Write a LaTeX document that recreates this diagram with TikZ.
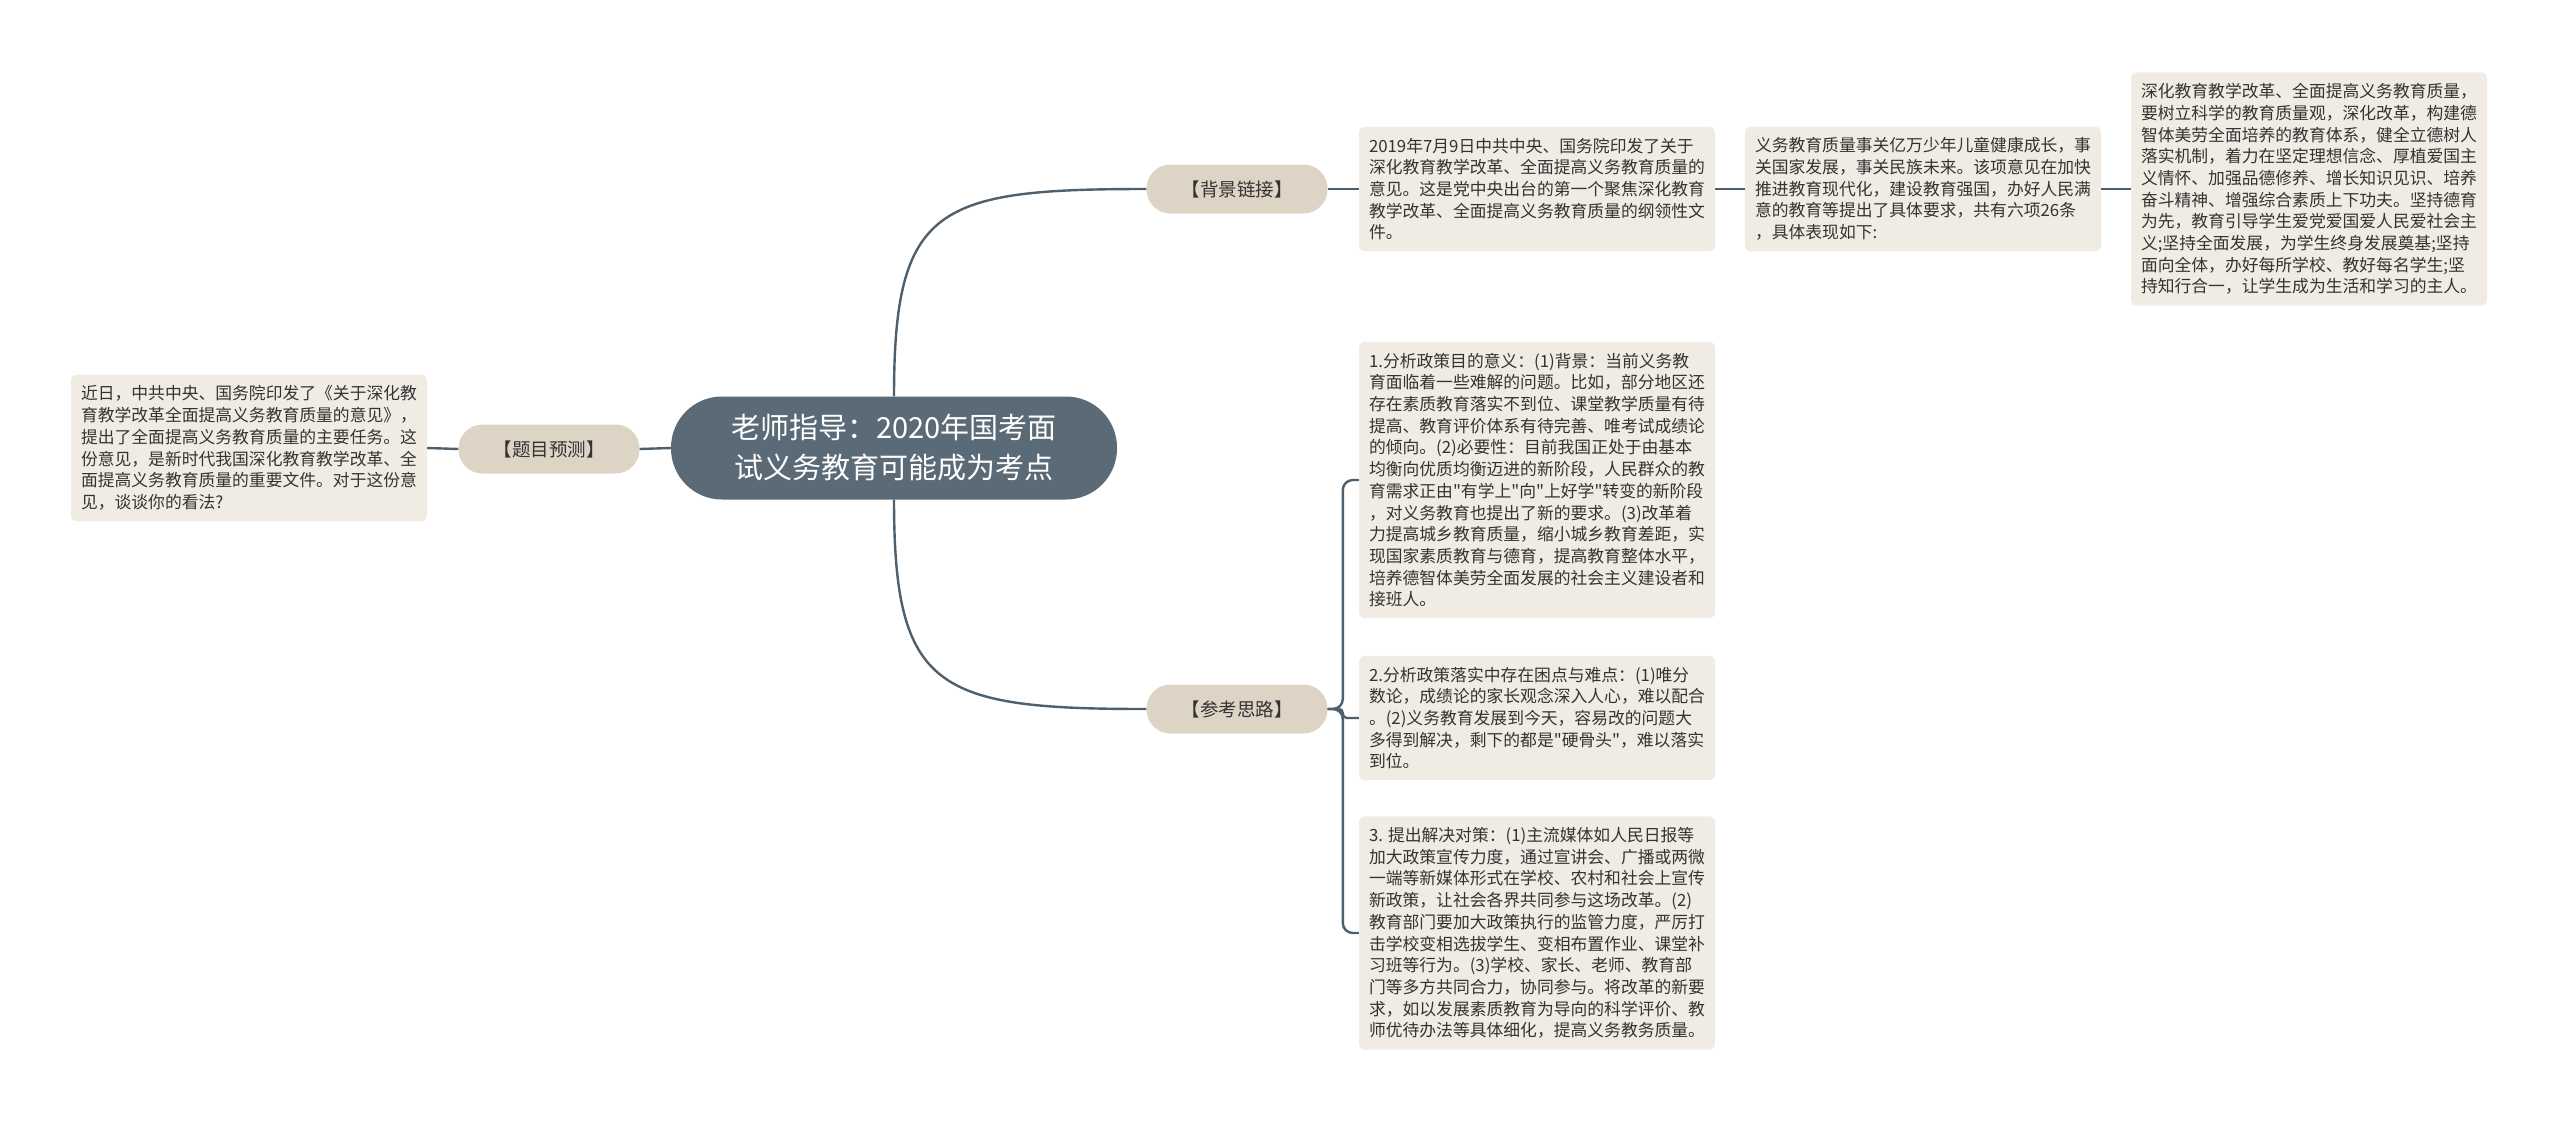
\documentclass[tikz,border=0pt]{standalone}
\usepackage{fontspec}
\setmainfont{Noto Sans CJK SC}[Ligatures=TeXOff]
\definecolor{linec}{HTML}{4F5F6B}
\definecolor{rootfill}{HTML}{5A6B77}
\definecolor{brfill}{HTML}{DED4C5}
\definecolor{leaffill}{HTML}{F0ECE4}
\definecolor{txt}{HTML}{333333}
\begin{document}
\begin{tikzpicture}[x=1pt,y=-1pt,
  conn/.style={draw=linec, line width=2.4pt},
  leaf/.style={fill=leaffill, rounded corners=6pt, align=left, inner xsep=10pt, inner ysep=11pt, minimum width=356pt, font=\fontsize{16.8}{21.7}\selectfont, text=txt},
  branch/.style={fill=brfill, rounded corners=24pt, minimum width=181pt, minimum height=49pt, font=\fontsize{18.5}{22}\selectfont, text=txt, inner sep=0pt},
  root/.style={fill=rootfill, rounded corners=51pt, minimum width=446pt, minimum height=103pt, align=center, text=white, font=\fontsize{29}{40}\selectfont}]
\fill[white] (0,0) rectangle (2560,1125);
\useasboundingbox (0,0) rectangle (2560,1125);

\node[root] (c) at (894,448) {老师指导：2020年国考面\\试义务教育可能成为考点};

\node[branch] (yc) at (549,449) {【题目预测】};
\node[branch] (bg) at (1237,189) {【背景链接】};
\node[branch] (pr) at (1237,709) {【参考思路】};

\node[leaf] (lb) at (249,448) {近日，中共中央、国务院印发了《关于深化教\\育教学改革全面提高义务教育质量的意见》，\\提出了全面提高义务教育质量的主要任务。这\\份意见，是新时代我国深化教育教学改革、全\\面提高义务教育质量的重要文件。对于这份意\\见，谈谈你的看法?};

\node[leaf] (b2019) at (1537,189) {2019年7月9日中共中央、国务院印发了关于\\深化教育教学改革、全面提高义务教育质量的\\意见。这是党中央出台的第一个聚焦深化教育\\教学改革、全面提高义务教育质量的纲领性文\\件。};

\node[leaf] (byw) at (1923,189) {义务教育质量事关亿万少年儿童健康成长，事\\关国家发展，事关民族未来。该项意见在加快\\推进教育现代化，建设教育强国，办好人民满\\意的教育等提出了具体要求，共有六项26条\\，具体表现如下:};

\node[leaf] (bsh) at (2309,189) {深化教育教学改革、全面提高义务教育质量，\\要树立科学的教育质量观，深化改革，构建德\\智体美劳全面培养的教育体系，健全立德树人\\落实机制，着力在坚定理想信念、厚植爱国主\\义情怀、加强品德修养、增长知识见识、培养\\奋斗精神、增强综合素质上下功夫。坚持德育\\为先，教育引导学生爱党爱国爱人民爱社会主\\义;坚持全面发展，为学生终身发展奠基;坚持\\面向全体，办好每所学校、教好每名学生;坚\\持知行合一，让学生成为生活和学习的主人。};

\node[leaf] (b1) at (1537,480) {1.分析政策目的意义：(1)背景：当前义务教\\育面临着一些难解的问题。比如，部分地区还\\存在素质教育落实不到位、课堂教学质量有待\\提高、教育评价体系有待完善、唯考试成绩论\\的倾向。(2)必要性：目前我国正处于由基本\\均衡向优质均衡迈进的新阶段，人民群众的教\\育需求正由"有学上"向"上好学"转变的新阶段\\，对义务教育也提出了新的要求。(3)改革着\\力提高城乡教育质量，缩小城乡教育差距，实\\现国家素质教育与德育，提高教育整体水平，\\培养德智体美劳全面发展的社会主义建设者和\\接班人。};

\node[leaf] (b2) at (1537,718) {2.分析政策落实中存在困点与难点：(1)唯分\\数论，成绩论的家长观念深入人心，难以配合\\。(2)义务教育发展到今天，容易改的问题大\\多得到解决，剩下的都是"硬骨头"，难以落实\\到位。};

\node[leaf] (b3) at (1537,933) {3. 提出解决对策：(1)主流媒体如人民日报等\\加大政策宣传力度，通过宣讲会、广播或两微\\一端等新媒体形式在学校、农村和社会上宣传\\新政策，让社会各界共同参与这场改革。(2)\\教育部门要加大政策执行的监管力度，严厉打\\击学校变相选拔学生、变相布置作业、课堂补\\习班等行为。(3)学校、家长、老师、教育部\\门等多方共同合力，协同参与。将改革的新要\\求，如以发展素质教育为导向的科学评价、教\\师优待办法等具体细化，提高义务教务质量。};

% connectors
\draw[conn] (c.west) -- (yc.east);
\draw[conn] (yc.west) -- (lb.east);
\draw[conn] (c.north) .. controls +(0,-190) and +(-210,0) .. (bg.west);
\draw[conn] (c.south) .. controls +(0,190) and +(-210,0) .. (pr.west);
\draw[conn] (bg.east) -- (bg.east -| b2019.west);
\draw[conn] (b2019.east) -- (b2019.east -| byw.west);
\draw[conn] (byw.east) -- (byw.east -| bsh.west);
\draw[conn, rounded corners=10pt] (pr.east) -| ([xshift=-16pt]b1.west) -- (b1.west);
\draw[conn, rounded corners=4pt] (pr.east) -| ([xshift=-16pt]b2.west) -- (b2.west);
\draw[conn, rounded corners=10pt] (pr.east) -| ([xshift=-16pt]b3.west) -- (b3.west);
\end{tikzpicture}
\end{document}
